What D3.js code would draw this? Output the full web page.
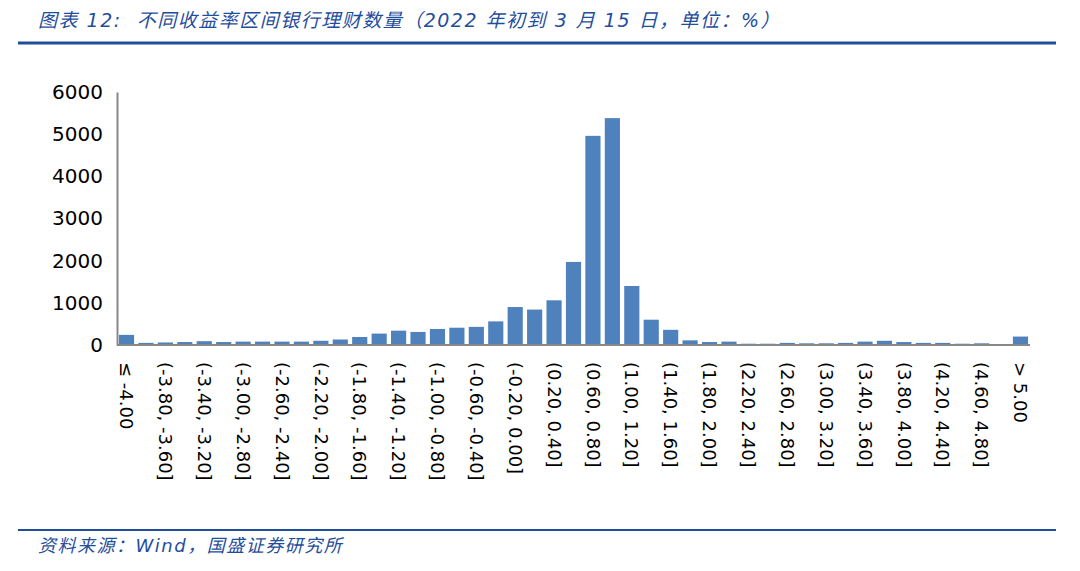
<!DOCTYPE html><html><head><meta charset="utf-8"><script src="https://cdn.jsdelivr.net/npm/d3@7"></script>
<style>body{margin:0;background:#fff}</style></head><body><svg id="c" width="1080" height="571"></svg><script>
const categories=["≤ -4.00"];
for(let i=0;i<45;i++){const a=(-4+i*0.2).toFixed(2),b=(-4+(i+1)*0.2).toFixed(2);categories.push("("+(a==="-0.00"?"0.00":a)+", "+(b==="-0.00"?"0.00":b)+"]");}
categories.push("> 5.00");
const values=[240,50,60,70,90,70,80,80,80,80,100,130,190,270,340,310,380,410,430,560,900,840,1060,1970,4960,5380,1400,600,360,110,70,80,30,30,50,40,40,50,80,100,70,50,50,30,40,0,200];
const yTicks=[0,1000,2000,3000,4000,5000,6000];
const title="图表 12:  不同收益率区间银行理财数量（2022 年初到 3 月 15 日，单位：%）";
const source="资料来源：Wind，国盛证券研究所";
const svg=d3.select("#c");
const blue="#1f4e9c";
svg.append("text").attr("x",38).attr("y",27).attr("fill",blue).attr("font-size",19).attr("letter-spacing",1.5).attr("font-style","italic").attr("xml:space","preserve").style("white-space","pre").attr("font-family","DejaVu Sans, Noto Sans CJK SC, sans-serif").text(title);
svg.append("line").attr("x1",18).attr("x2",1056).attr("y1",43).attr("y2",43).attr("stroke",blue).attr("stroke-width",3);
svg.append("line").attr("x1",18).attr("x2",1056).attr("y1",530).attr("y2",530).attr("stroke",blue).attr("stroke-width",2);
svg.append("text").attr("x",38).attr("y",552).attr("fill",blue).attr("font-size",18).attr("letter-spacing",1.5).attr("font-style","italic").attr("font-family","DejaVu Sans, Noto Sans CJK SC, sans-serif").text(source);
const x=d3.scaleBand().domain(categories).range([117,1030]).paddingInner(0.22).paddingOuter(0.1);
const y=d3.scaleLinear().domain([0,6000]).range([345,92]);
svg.selectAll("rect").data(values).join("rect").attr("x",(d,i)=>x(categories[i])).attr("width",x.bandwidth()).attr("y",d=>y(d)).attr("height",d=>345-y(d)).attr("fill","#4f81bd");
const ya=svg.append("g").attr("transform","translate(117,0)").call(d3.axisLeft(y).tickValues(yTicks).tickFormat(d3.format("d")).tickSize(0).tickPadding(14));
ya.selectAll("text").attr("font-size",20).attr("font-family","DejaVu Sans, sans-serif").attr("fill","#000");
ya.select(".domain").attr("stroke","#888").attr("stroke-width",2);
svg.append("line").attr("x1",117).attr("x2",1030).attr("y1",345).attr("y2",345).attr("stroke","#888").attr("stroke-width",2);
categories.forEach((c,i)=>{if(i%2)return;const cx=x(c)+x.bandwidth()/2;
svg.append("text").attr("transform",`translate(${cx},362) rotate(90)`).attr("dy","0.35em").attr("font-size",18).attr("font-family","DejaVu Sans, sans-serif").text(c);});
</script></body></html>
